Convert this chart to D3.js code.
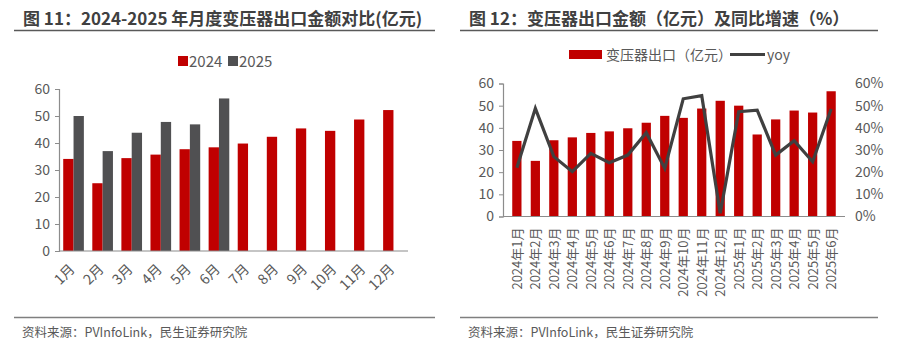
<!DOCTYPE html>
<html>
<head>
<meta charset="utf-8">
<script src="https://cdn.jsdelivr.net/npm/d3@7"></script>
<style>
  body { margin: 0; background: #fff; }
  svg text { font-family: "Noto Sans CJK SC", "Noto Sans", sans-serif; }
</style>
</head>
<body>
<svg width="915" height="350"></svg>
<script>
// ---- data ----
const months = ["1月", "2月", "3月", "4月", "5月", "6月", "7月", "8月", "9月", "10月", "11月", "12月"];
const export2024 = [34.1, 25.1, 34.4, 35.7, 37.7, 38.4, 39.8, 42.3, 45.4, 44.5, 48.7, 52.2];
const export2025 = [50.0, 37.0, 43.8, 47.8, 46.9, 56.5];
const seriesNames = ["2024", "2025"];

const periods = ["2024年1月", "2024年2月", "2024年3月", "2024年4月", "2024年5月", "2024年6月",
  "2024年7月", "2024年8月", "2024年9月", "2024年10月", "2024年11月", "2024年12月",
  "2025年1月", "2025年2月", "2025年3月", "2025年4月", "2025年5月", "2025年6月"];
const exportAll = export2024.concat(export2025);
const yoy = [22.0, 48.8, 27.0, 20.2, 28.5, 24.3, 27.7, 37.8, 21.7, 53.1, 54.5, 1.5,
  47.3, 48.0, 27.7, 34.2, 24.7, 48.5];

const leftTicks = [0, 10, 20, 30, 40, 50, 60];
const rightTicks = [0, 0.1, 0.2, 0.3, 0.4, 0.5, 0.6];

const RED = "#c00000";
const DARK = "#505052";
const AXIS = "#8c8c8c";
const LABEL = "#595959";

const svg = d3.select("svg");

// ---- panel frames: titles, rules, source ----
function frame(x0, x1, title) {
  svg.append("text")
    .attr("x", x0 + 9).attr("y", 25)
    .attr("font-size", 17).attr("font-weight", "bold")
    .attr("fill", "#404040")
    .text(title);
  svg.append("line")
    .attr("x1", x0).attr("x2", x1).attr("y1", 30.5).attr("y2", 30.5)
    .attr("stroke", "#595959").attr("stroke-width", 1.5);
  svg.append("line")
    .attr("x1", x0).attr("x2", x1).attr("y1", 317.5).attr("y2", 317.5)
    .attr("stroke", "#7f7f7f").attr("stroke-width", 1.5);
  svg.append("text")
    .attr("x", x0 + 8).attr("y", 337)
    .attr("font-size", 12.5).attr("fill", LABEL)
    .text("资料来源：PVInfoLink，民生证券研究院");
}
frame(14, 435, "图 11：2024-2025 年月度变压器出口金额对比(亿元)");
frame(460, 878, "图 12：变压器出口金额（亿元）及同比增速（%）");

function styleAxis(g) {
  g.select(".domain").attr("stroke", AXIS).attr("stroke-width", 1.2);
  g.selectAll(".tick line").attr("stroke", AXIS);
  g.selectAll(".tick text").attr("fill", LABEL).attr("font-size", 14)
    .attr("font-family", "'Noto Sans CJK SC', sans-serif");
}

// ---- left chart: grouped bars ----
{
  const x = d3.scaleBand().domain(months).range([59, 408]).paddingInner(0.29).paddingOuter(0.145);
  const sub = d3.scaleBand().domain(seriesNames).range([0, x.bandwidth()]);
  const y = d3.scaleLinear().domain([0, 60]).range([251, 89]);

  const g = svg.append("g");
  g.append("g").attr("transform", "translate(59,0)")
    .call(d3.axisLeft(y).tickValues(leftTicks).tickSize(4).tickPadding(5).tickSizeOuter(4))
    .call(styleAxis);

  const groups = [export2024, export2025];
  groups.forEach((vals, si) => {
    g.append("g").selectAll("rect")
      .data(vals)
      .join("rect")
      .attr("x", (d, i) => x(months[i]) + sub(seriesNames[si]))
      .attr("y", d => y(d))
      .attr("width", sub.bandwidth())
      .attr("height", d => y(0) - y(d))
      .attr("fill", si === 0 ? RED : DARK);
  });

  g.append("line")
    .attr("x1", 59).attr("x2", 408).attr("y1", y(0)).attr("y2", y(0))
    .attr("stroke", AXIS).attr("stroke-width", 1.2);

  g.append("g").selectAll("text")
    .data(months)
    .join("text")
    .attr("transform", d => `translate(${x(d) + x.bandwidth() / 2 + 2},${y(0) + 19}) rotate(-45)`)
    .attr("text-anchor", "end")
    .attr("font-size", 14).attr("fill", LABEL)
    .text(d => d);

  // legend
  const lg = svg.append("g").attr("transform", "translate(178,56)");
  seriesNames.forEach((n, i) => {
    const ox = i * 50;
    lg.append("rect").attr("x", ox).attr("y", 0).attr("width", 10).attr("height", 10)
      .attr("fill", i === 0 ? RED : DARK);
    lg.append("text").attr("x", ox + 11).attr("y", 10.5)
      .attr("font-size", 15).attr("fill", LABEL).text(n);
  });
}

// ---- right chart: bars + yoy line ----
{
  const x = d3.scaleBand().domain(periods).range([503, 845]).padding(0.5);
  const y = d3.scaleLinear().domain([0, 60]).range([216.5, 83.5]);
  const y2 = d3.scaleLinear().domain([0, 0.6]).range([216.5, 83.5]);

  const g = svg.append("g");
  g.append("g").attr("transform", "translate(503,0)")
    .call(d3.axisLeft(y).tickValues(leftTicks).tickSize(4).tickPadding(5).tickSizeOuter(4))
    .call(styleAxis);

  g.append("g").attr("transform", "translate(845,0)")
    .call(d3.axisRight(y2).tickValues(rightTicks).tickFormat(d3.format(".0%")).tickSize(0).tickPadding(10))
    .call(styleAxis)
    .call(a => a.select(".domain").remove());

  g.append("g").selectAll("rect")
    .data(exportAll)
    .join("rect")
    .attr("x", (d, i) => x(periods[i]))
    .attr("y", d => y(d))
    .attr("width", x.bandwidth())
    .attr("height", d => y(0) - y(d))
    .attr("fill", RED);

  g.append("line")
    .attr("x1", 503).attr("x2", 845).attr("y1", y(0)).attr("y2", y(0))
    .attr("stroke", AXIS).attr("stroke-width", 1.2);

  const line = d3.line()
    .x((d, i) => x(periods[i]) + x.bandwidth() / 2)
    .y(d => y2(d / 100));
  g.append("path")
    .datum(yoy)
    .attr("d", line)
    .attr("fill", "none")
    .attr("stroke", "#404040")
    .attr("stroke-width", 3.2)
    .attr("stroke-linejoin", "miter");

  g.append("g").selectAll("text")
    .data(periods)
    .join("text")
    .attr("transform", d => `translate(${x(d) + x.bandwidth() / 2 + 5},${y(0) + 11}) rotate(-90)`)
    .attr("text-anchor", "end")
    .attr("font-size", 13).attr("fill", LABEL)
    .text(d => d);

  // legend
  const lg = svg.append("g").attr("transform", "translate(569,50)");
  lg.append("rect").attr("x", 0).attr("y", 0).attr("width", 33).attr("height", 9).attr("fill", RED);
  lg.append("text").attr("x", 37).attr("y", 10).attr("font-size", 14).attr("fill", LABEL)
    .text("变压器出口（亿元）");
  lg.append("line").attr("x1", 161).attr("x2", 196).attr("y1", 4.5).attr("y2", 4.5)
    .attr("stroke", "#404040").attr("stroke-width", 3.2);
  lg.append("text").attr("x", 198).attr("y", 10).attr("font-size", 14).attr("fill", LABEL)
    .text("yoy");
}
</script>
</body>
</html>
